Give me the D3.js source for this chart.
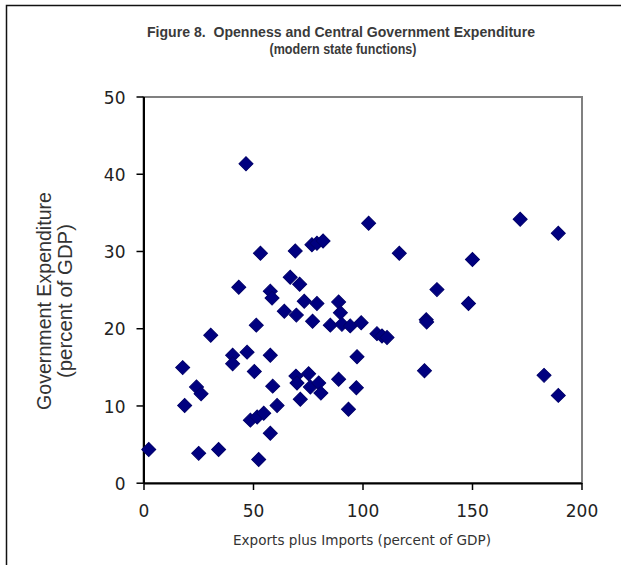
<!DOCTYPE html>
<html>
<head>
<meta charset="utf-8">
<script src="https://cdn.jsdelivr.net/npm/d3@7"></script>
<style>
  html, body { margin: 0; padding: 0; background: #fff; }
  svg { display: block; }
  text { white-space: pre; }
</style>
</head>
<body>
<svg id="chart" width="621" height="565"></svg>
<script>
// ---- data ----
const titleLines = ["Figure 8.  Openness and Central Government Expenditure", "(modern state functions)"];
const xTitle = "Exports plus Imports (percent of GDP)";
const yTitleLines = ["Government Expenditure", "(percent of GDP)"];
const xTicks = [0, 50, 100, 150, 200];
const yTicks = [0, 10, 20, 30, 40, 50];
// openness (exports + imports, % of GDP)
const openness = [
  2.4, 17.9, 18.8, 24.2, 26.3, 25.2, 30.7, 34.3, 40.7, 40.7,
  43.5, 46.8, 47.3, 48.8, 51.9, 54.9, 50.6, 51.5, 52.6, 53.4,
  57.9, 58.7, 57.9, 59.0, 57.9, 61.0, 64.3, 67.0, 69.3, 69.8,
  71.3, 69.6, 70.1, 71.6, 73.4, 75.4, 76.2, 76.9, 79.2, 82.0,
  77.2, 79.2, 80.0, 81.0, 85.3, 89.1, 89.9, 89.1, 90.6, 93.6,
  94.4, 97.5, 97.2, 99.4, 102.8, 106.6, 108.9, 111.2, 116.8, 128.3,
  129.1, 129.3, 134.0, 148.4, 150.2, 172.0, 182.9, 189.4, 189.4
];
// central government expenditure (% of GDP)
const expenditure = [
  4.3, 14.9, 10.0, 12.4, 11.5, 3.8, 19.1, 4.3, 16.5, 15.4,
  25.3, 41.3, 16.9, 8.1, 8.5, 9.0, 14.4, 20.4, 3.0, 29.7,
  24.8, 23.9, 16.5, 12.5, 6.4, 10.0, 22.2, 26.6, 30.0, 21.7,
  25.7, 13.8, 12.9, 10.8, 23.5, 14.1, 12.4, 30.8, 31.0, 31.3,
  20.9, 23.2, 12.9, 11.6, 20.4, 23.4, 22.0, 13.4, 20.5, 9.5,
  20.3, 16.3, 12.3, 20.7, 33.6, 19.3, 19.0, 18.8, 29.7, 14.5,
  21.1, 20.8, 25.0, 23.2, 28.9, 34.1, 13.9, 32.3, 11.3
];

// ---- drawing ----
const svg = d3.select("#chart");
const plot = { left: 143.5, right: 582, top: 97, bottom: 483 };

const x = d3.scaleLinear().domain([0, 200]).range([plot.left, plot.right - 0.5]);
const y = d3.scaleLinear().domain([0, 50]).range([plot.bottom - 0.3, plot.top - 0.5]);

// outer frame (top and left edges visible)
svg.append("path")
  .attr("d", "M6.5,570 V5.5 H625")
  .attr("fill", "none")
  .attr("stroke", "#111")
  .attr("stroke-width", 1.5);

// titles
const titleFont = "'Liberation Sans', Arial, sans-serif";
svg.append("text")
  .attr("x", 341).attr("y", 37)
  .attr("text-anchor", "middle")
  .attr("font-family", titleFont)
  .attr("font-weight", "bold")
  .attr("font-size", 15.5)
  .attr("fill", "#3a3a3a")
  .attr("textLength", 388)
  .attr("lengthAdjust", "spacingAndGlyphs")
  .text(titleLines[0]);
svg.append("text")
  .attr("x", 343).attr("y", 54)
  .attr("text-anchor", "middle")
  .attr("font-family", titleFont)
  .attr("font-weight", "bold")
  .attr("font-size", 15.5)
  .attr("fill", "#3a3a3a")
  .attr("textLength", 147)
  .attr("lengthAdjust", "spacingAndGlyphs")
  .text(titleLines[1]);

// plot area border (gray)
svg.append("rect")
  .attr("x", plot.left).attr("y", plot.top)
  .attr("width", plot.right - plot.left)
  .attr("height", plot.bottom - plot.top)
  .attr("fill", "#fff")
  .attr("stroke", "#808080")
  .attr("stroke-width", 2);

// axes
const tickFont = "'DejaVu Sans', Verdana, sans-serif";
const yAxis = svg.append("g")
  .attr("transform", `translate(${plot.left},0)`)
  .call(d3.axisLeft(y).tickValues(yTicks).tickSize(7).tickPadding(11).tickSizeOuter(0));
const xAxis = svg.append("g")
  .attr("transform", `translate(0,${plot.bottom})`)
  .call(d3.axisBottom(x).tickValues(xTicks).tickSize(7).tickPadding(15).tickSizeOuter(0));

[yAxis, xAxis].forEach(g => {
  g.select(".domain").attr("stroke", "#000").attr("stroke-width", 2);
  g.selectAll(".tick line").attr("stroke", "#000").attr("stroke-width", 1.5);
  g.selectAll(".tick text")
    .attr("font-family", tickFont)
    .attr("font-size", 17)
    .attr("fill", "#222");
});
yAxis.selectAll(".tick text").attr("dy", "0.39em");

// axis titles
svg.append("text")
  .attr("x", 362).attr("y", 545)
  .attr("text-anchor", "middle")
  .attr("font-family", tickFont)
  .attr("font-size", 13.5)
  .attr("fill", "#333")
  .attr("textLength", 258)
  .attr("lengthAdjust", "spacingAndGlyphs")
  .text(xTitle);

const yt = svg.append("g").attr("transform", "translate(0,301) rotate(-90)");
yt.append("text")
  .attr("x", 0).attr("y", 51)
  .attr("text-anchor", "middle")
  .attr("font-family", titleFont)
  .attr("font-size", 21)
  .attr("fill", "#333")
  .attr("textLength", 218)
  .attr("lengthAdjust", "spacingAndGlyphs")
  .text(yTitleLines[0]);
yt.append("text")
  .attr("x", 0).attr("y", 72)
  .attr("text-anchor", "middle")
  .attr("font-family", titleFont)
  .attr("font-size", 21)
  .attr("fill", "#333")
  .attr("textLength", 154)
  .attr("lengthAdjust", "spacingAndGlyphs")
  .text(yTitleLines[1]);

// diamond markers
const pts = openness.map((v, i) => ({ x: v, y: expenditure[i] }));
const diamond = d3.symbol().type(d3.symbolSquare).size(98);
svg.append("g")
  .selectAll("path")
  .data(pts)
  .join("path")
  .attr("d", diamond)
  .attr("transform", d => `translate(${x(d.x)},${y(d.y)}) rotate(45)`)
  .attr("fill", "#000080")
  .attr("stroke", "#00006a")
  .attr("stroke-width", 1);
</script>
</body>
</html>
